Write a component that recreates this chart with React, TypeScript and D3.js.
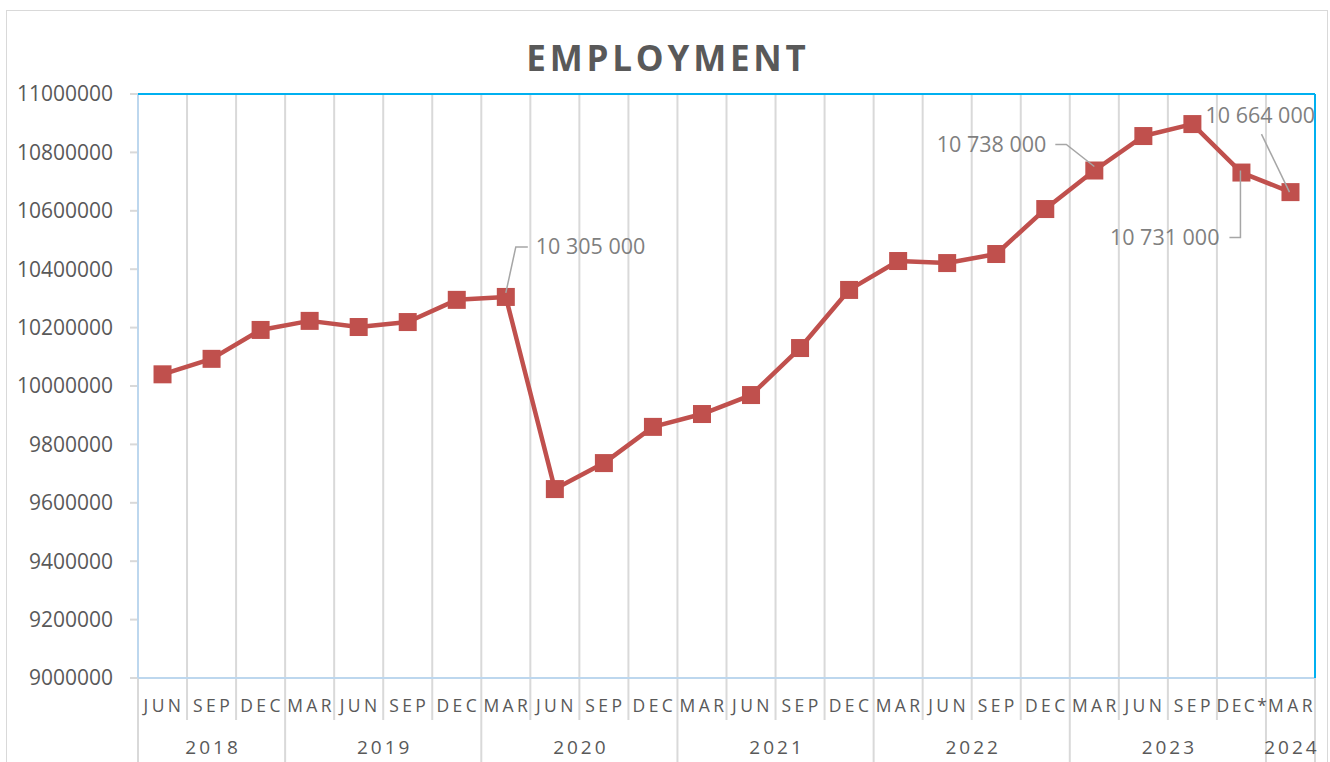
import React from "react";
import * as d3 from "d3";

// quarters (tick labels) and the year each belongs to
const quarters = [
  "JUN", "SEP", "DEC",
  "MAR", "JUN", "SEP", "DEC",
  "MAR", "JUN", "SEP", "DEC",
  "MAR", "JUN", "SEP", "DEC",
  "MAR", "JUN", "SEP", "DEC",
  "MAR", "JUN", "SEP", "DEC*",
  "MAR",
];
const years = ["2018", "2019", "2020", "2021", "2022", "2023", "2024"];
const yearSpans = [3, 4, 4, 4, 4, 4, 1];

// employment, persons
const employment = [
  10040000, 10093000, 10192000, 10223000, 10202000, 10219000, 10295000, 10305000,
  9647000, 9736000, 9860000, 9904000, 9969000, 10130000, 10329000, 10428000,
  10421000, 10452000, 10606000, 10738000, 10856000, 10897000, 10731000, 10664000,
];

const yTicks = d3.range(9000000, 11000001, 200000);

const width = 1330;
const height = 762;
const plotLeft = 138;
const plotRight = 1315;
const plotTop = 94;
const plotBottom = 678;

const fontFamily = "'Open Sans', 'Liberation Sans', sans-serif";
const fmt = (v: number) => d3.format(",")(v).replace(/,/g, " ");

export default function App() {
  const idx = quarters.map((_, i) => String(i));
  const x = d3.scaleBand().domain(idx).range([plotLeft, plotRight]).padding(0);
  const y = d3.scaleLinear().domain([9000000, 11000000]).range([plotBottom, plotTop]);
  const cx = (i: number) => (x(String(i)) || 0) + x.bandwidth() / 2;

  const line = d3
    .line<number>()
    .x((_, i) => cx(i))
    .y((d) => y(d));

  // year group boundaries (category index where each year starts)
  const starts: number[] = [];
  yearSpans.reduce((acc, n) => {
    starts.push(acc);
    return acc + n;
  }, 0);

  const bx = (i: number) => plotLeft + i * x.bandwidth();

  // annotated points
  const p7 = { x: cx(7), y: y(employment[7]) };
  const p19 = { x: cx(19), y: y(employment[19]) };
  const p22 = { x: cx(22), y: y(employment[22]) };
  const p23 = { x: cx(23), y: y(employment[23]) };

  return (
    <svg
      width={width}
      height={height}
      style={{ position: "absolute", left: 0, top: 0, background: "#fff" }}
      fontFamily={fontFamily}
    >
      <rect x={6.5} y={10.5} width={1321} height={770} fill="#fff" stroke="#d9d9d9" />

      <text
        x={668}
        y={71}
        textAnchor="middle"
        fontSize={35}
        fontWeight="bold"
        fill="#595959"
        letterSpacing={3.8}
      >
        EMPLOYMENT
      </text>

      {/* category gridlines extending through tick labels */}
      {d3.range(1, quarters.length).map((i) => {
        const isYear = starts.includes(i);
        return (
          <line
            key={"g" + i}
            x1={bx(i)}
            x2={bx(i)}
            y1={plotTop}
            y2={isYear ? height : 720}
            stroke="#d9d9d9"
            strokeWidth={2}
          />
        );
      })}
      <line x1={plotLeft} x2={plotLeft} y1={plotBottom} y2={height} stroke="#d9d9d9" strokeWidth={2} />
      <line x1={plotRight} x2={plotRight} y1={plotBottom} y2={height} stroke="#d9d9d9" strokeWidth={2} />

      {/* y ticks */}
      {yTicks.map((t) => (
        <g key={t}>
          <line x1={130} x2={plotLeft} y1={y(t)} y2={y(t)} stroke="#d9d9d9" strokeWidth={2} />
          <text x={113} y={y(t)} dy="0.35em" textAnchor="end" fontSize={21} fill="#595959">
            {t}
          </text>
        </g>
      ))}

      {/* plot frame */}
      <line x1={plotLeft} x2={plotLeft} y1={plotTop} y2={plotBottom} stroke="#bdd7ee" strokeWidth={2} />
      <line x1={plotLeft} x2={plotRight} y1={plotBottom} y2={plotBottom} stroke="#bdd7ee" strokeWidth={2} />
      <line x1={plotLeft} x2={plotRight} y1={plotTop} y2={plotTop} stroke="#00b0f0" strokeWidth={2} />
      <line x1={plotRight} x2={plotRight} y1={plotTop} y2={plotBottom} stroke="#00b0f0" strokeWidth={2} />

      {/* quarter labels */}
      {quarters.map((q, i) => (
        <text
          key={"q" + i}
          x={cx(i) + 1.5}
          y={706}
          dy="0.35em"
          textAnchor="middle"
          fontSize={17.5}
          fill="#595959"
          letterSpacing={q.length > 3 ? 2.4 : 3.4}
        >
          {q}
        </text>
      ))}

      {/* year labels */}
      {years.map((yr, k) => {
        const mid = (bx(starts[k]) + bx(starts[k] + yearSpans[k])) / 2;
        return (
          <text
            key={yr}
            x={mid + 1.5}
            y={747}
            dy="0.35em"
            textAnchor="middle"
            fontSize={19}
            fill="#595959"
            letterSpacing={3}
          >
            {yr}
          </text>
        );
      })}

      {/* series */}
      <path d={line(employment) || ""} fill="none" stroke="#c0504d" strokeWidth={4.5} strokeLinejoin="round" />
      {employment.map((v, i) => (
        <rect key={"m" + i} x={cx(i) - 9} y={y(v) - 9} width={18} height={18} fill="#c0504d" />
      ))}

      {/* data labels with leader lines */}
      <g stroke="#a6a6a6" strokeWidth={1.5} fill="none">
        <polyline points={`${p7.x},${p7.y - 4} ${p7.x + 10},${p7.y - 50} ${p7.x + 22},${p7.y - 50}`} />
        <polyline points={`${p19.x - 39},${p19.y - 26} ${p19.x - 28},${p19.y - 26} ${p19.x},${p19.y - 4}`} />
        <polyline points={`${p22.x - 12},${p22.y + 65} ${p22.x - 1},${p22.y + 65} ${p22.x - 1},${p22.y - 2}`} />
        <polyline points={`${p23.x - 29},${p23.y - 58} ${p23.x - 1},${p23.y}`} />
      </g>
      <g fontSize={21.5} fill="#7f7f7f">
        <text x={p7.x + 30} y={p7.y - 50} dy="0.35em">{fmt(employment[7])}</text>
        <text x={p19.x - 48} y={p19.y - 26} dy="0.35em" textAnchor="end">{fmt(employment[19])}</text>
        <text x={p22.x - 22} y={p22.y + 65} dy="0.35em" textAnchor="end">{fmt(employment[22])}</text>
        <text x={plotRight} y={p23.y - 77} dy="0.35em" textAnchor="end">{fmt(employment[23])}</text>
      </g>
    </svg>
  );
}
